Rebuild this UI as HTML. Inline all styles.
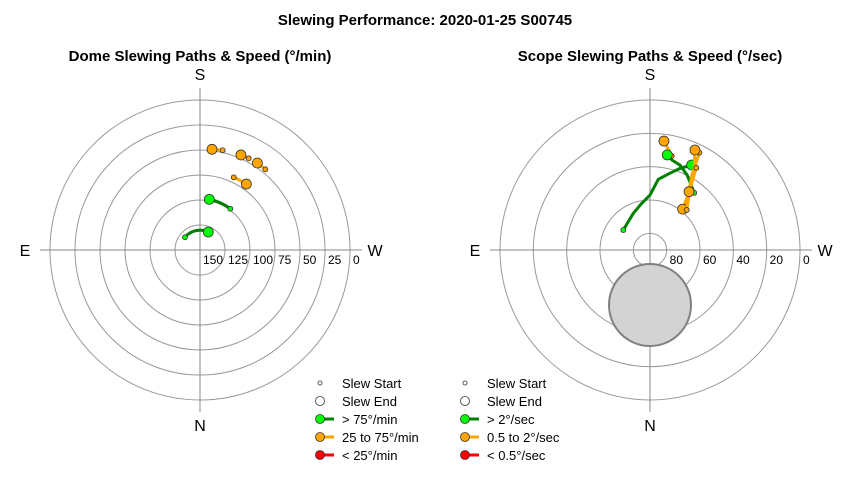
<!DOCTYPE html>
<html><head><meta charset="utf-8"><style>
body{margin:0;background:#fff;font-family:"Liberation Sans",Arial,sans-serif}
svg text{font-family:"Liberation Sans",Arial,sans-serif}
</style></head><body>
<svg id="c" width="850" height="480" xmlns="http://www.w3.org/2000/svg">
<rect width="850" height="480" fill="#fff"/>
<text x="425" y="25" text-anchor="middle" font-size="15" font-weight="bold">Slewing Performance: 2020-01-25 S00745</text>
<text x="200" y="61" text-anchor="middle" font-size="15" font-weight="bold">Dome Slewing Paths &amp; Speed (°/min)</text>
<text x="650" y="61" text-anchor="middle" font-size="15" font-weight="bold">Scope Slewing Paths &amp; Speed (°/sec)</text>
<g id="dome"></g>
<g id="scope"></g>
<g id="legends"></g>
</svg>
<script>
// ---- Dome data (azimuth deg, value on radial axis) ----
const domeTicks = [150,125,100,75,50,25,0];
const domeStartAz = [192.8,208.0,219.0,204.9,216.3,130.3];
const domeStartVal = [47.7,46.2,46.2,69.9,98.8,130.3];
const domeEndAz = [186.8,203.3,213.4,215.1,190.4,204.8];
const domeEndVal = [48.6,46.5,45.8,69.4,98.5,130.2];
const domeSpeedClass = ['mid','mid','mid','mid','fast','fast'];

// ---- Scope data (paths as azimuth / altitude lists) ----
const scopeTicks = [80,60,40,20,0];
const scopePathAz = [
  [193.0,187.3],
  [126.8,155.5,169.9,180,186.7,194.6,200.2,206.1],
  [217.7,206.3,199.4,193.7,190.3],
  [206.9,207.6,209.2,214.6,218.6],
  [222.5,213.7,208.8,204.2],
  [209.4,213.8]
];
const scopePathAlt = [
  [32.1,24.1],
  [70.0,65.8,61.6,57.0,47.3,42.4,37.8,33.2],
  [46.6,39.8,35.9,34.4,32.0],
  [24.5,29.1,38.4,49.9,58.6],
  [57.4,46.7,35.2,24.2],
  [33.4,47.9]
];
const scopeSpeedClass = ['mid','fast','fast','mid','mid','mid'];
const zenithAlt = 57.0, zenithAz = 0, zenithRadiusDeg = 24.6;

const NS='http://www.w3.org/2000/svg';
const colors={fast:{line:'#008000',fill:'#00ff00'},mid:{line:'#ffa500',fill:'#ffa500'},slow:{line:'#ff0000',fill:'#ff0000'}};
function mk(tag,attrs,parent){const e=document.createElementNS(NS,tag);for(const k in attrs)e.setAttribute(k,attrs[k]);parent.appendChild(e);return e;}
function polar(cx,cy,r,az){const a=(az-180)*Math.PI/180;return [cx+r*Math.sin(a),cy-r*Math.cos(a)];}

function frame(g,cx,cy,rings,labels,pfx){
  rings.forEach((r,i)=>{if(r<=0)return;const c=mk('circle',{cx:cx,cy:cy,r:r,fill:'none',stroke:'#999','stroke-width':1},g);
    
    });
  const h=mk('line',{x1:cx-160,y1:cy,x2:cx+162,y2:cy,stroke:'#888','stroke-width':1},g);
  
  
  const v=mk('line',{x1:cx,y1:cy-162,x2:cx,y2:cy+162,stroke:'#888','stroke-width':1},g);
  
  
  rings.forEach((r,i)=>{const t=mk('text',{x:cx+r+3,y:cy+14,'font-size':12},g);t.textContent=labels[i];
    
    });
  [['S',cx,cy-170],['N',cx,cy+181],['E',cx-175,cy+6],['W',cx+175,cy+6]].forEach(d=>{
    const t=mk('text',{x:d[1],y:d[2],'font-size':16,'text-anchor':'middle'},g);t.textContent=d[0];
    
    });
}
function marker(g,x,y,r,fill,name){const c=mk('circle',{cx:x,cy:y,r:r,fill:fill,stroke:'#333','stroke-width':0.8},g);
  
  }

// Dome
(function(){
  const g=document.getElementById('dome'),cx=200,cy=250;
  const rOf=v=>150-v;
  frame(g,cx,cy,domeTicks.map(rOf),domeTicks,'dome');
  domeStartAz.forEach((a0,i)=>{
    const col=colors[domeSpeedClass[i]];let d='';
    for(let s=0;s<=20;s++){const f=s/20;const az=a0+(domeEndAz[i]-a0)*f,v=domeStartVal[i]+(domeEndVal[i]-domeStartVal[i])*f;
      const p=polar(cx,cy,rOf(v),az);d+=(s?'L':'M')+p[0].toFixed(1)+' '+p[1].toFixed(1);}
    const pa=mk('path',{d:d,fill:'none',stroke:col.line,'stroke-width':3},g);
    
    
    const e=polar(cx,cy,rOf(domeEndVal[i]),domeEndAz[i]);marker(g,e[0],e[1],5,col.fill,'dome-slew-end');
    const s=polar(cx,cy,rOf(domeStartVal[i]),a0);marker(g,s[0],s[1],2.5,col.fill,'dome-slew-start');
  });
})();

// Scope
(function(){
  const g=document.getElementById('scope'),cx=650,cy=250,k=150/90;
  const rOf=a=>(90-a)*k;
  frame(g,cx,cy,scopeTicks.map(rOf),scopeTicks,'scope');
  const zp=polar(cx,cy,rOf(zenithAlt),zenithAz);
  const z=mk('circle',{cx:zp[0],cy:zp[1],r:zenithRadiusDeg*k,fill:'#d3d3d3',stroke:'#808080','stroke-width':2},g);
  
  
  scopePathAz.forEach((azs,i)=>{
    const col=colors[scopeSpeedClass[i]];
    const pts=azs.map((a,j)=>polar(cx,cy,rOf(scopePathAlt[i][j]),a));
    const pl=mk('polyline',{points:pts.map(p=>p[0].toFixed(1)+','+p[1].toFixed(1)).join(' '),fill:'none',stroke:col.line,'stroke-width':3,'stroke-linejoin':'round'},g);
    
    
    const e=pts[pts.length-1];marker(g,e[0],e[1],5,col.fill,'scope-slew-end');
    marker(g,pts[0][0],pts[0][1],2.5,col.fill,'scope-slew-start');
  });
})();

// Legends
(function(){
  const g=document.getElementById('legends');
  const sets=[[320,['Slew Start','Slew End','> 75°/min','25 to 75°/min','< 25°/min']],[465,['Slew Start','Slew End','> 2°/sec','0.5 to 2°/sec','< 0.5°/sec']]];
  const cls=[null,null,'fast','mid','slow'];
  sets.forEach((s,si)=>{
    const x=s[0];
    s[1].forEach((lab,i)=>{
      const y=383+i*18;
      if(i===0)marker(g,x,y,2,'#fff','legend-start-marker');
      else if(i===1)marker(g,x,y,4.5,'#fff','legend-end-marker');
      else{const c=colors[cls[i]];
        const l=mk('line',{x1:x,y1:y,x2:x+14,y2:y,stroke:c.line,'stroke-width':3},g);
        
        
        marker(g,x,y,4.5,c.fill,'legend-marker');}
      const t=mk('text',{x:x+22,y:y+5,'font-size':13},g);t.textContent=lab;
      
      
    });
  });
})();
</script>
</body></html>
